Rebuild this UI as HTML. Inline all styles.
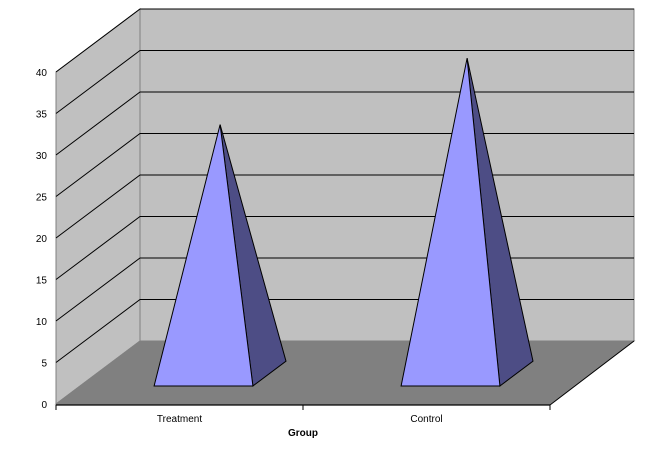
<!DOCTYPE html>
<html><head><meta charset="utf-8"><style>
html,body{margin:0;padding:0;background:#fff}
svg{display:block;font-family:"Liberation Sans",Arial,sans-serif}
</style></head><body>
<svg id="chart" width="667" height="455" viewBox="0 0 667 455" xmlns="http://www.w3.org/2000/svg"></svg>
<script>
const categories = ["Treatment", "Control"];
const values = [30, 38];
const yTicks = [0, 5, 10, 15, 20, 25, 30, 35, 40];
const yMax = 40;

const NS = "http://www.w3.org/2000/svg";
const svg = document.getElementById("chart");
const X0 = 56, X1 = 550, Y0 = 404, Y40 = 72;
const DX = 84, DY = -63;
function yS(v){ return Y0 - (Y0 - Y40) * v / yMax; }
function P(x, v, d){ return [x + DX*d, yS(v) + DY*d]; }
function mk(tag, attrs, parent){
  const e = document.createElementNS(NS, tag);
  for (const k in attrs) e.setAttribute(k, attrs[k]);
  (parent||svg).appendChild(e);
  return e;
}
function pts(a){ return a.map(p=>p[0].toFixed(1)+","+p[1].toFixed(1)).join(" "); }

// back wall
let e = mk("polygon",{points:pts([P(X0,yMax,1),P(X1,yMax,1),P(X1,0,1),P(X0,0,1)]),fill:"#c0c0c0",stroke:"#808080"});
 
// left wall
e = mk("polygon",{points:pts([P(X0,yMax,0),P(X0,yMax,1),P(X0,0,1),P(X0,0,0)]),fill:"#c0c0c0",stroke:"#808080"});
 
// floor
e = mk("polygon",{points:pts([P(X0,0,0),P(X0,0,1),P(X1,0,1),P(X1,0,0)]),fill:"#808080",stroke:"#808080"});
 

// gridlines + tick labels
yTicks.forEach(v=>{
  if (v > 0) {
    const a=P(X0,v,0), b=P(X0,v,1), c=P(X1,v,1);
    const g = mk("polyline",{points:pts([a,b,c]),fill:"none",stroke:"#000","stroke-width":1});
     
  }
  const t = mk("text",{x:47,y:yS(v)+4,"font-size":10,"text-anchor":"end",fill:"#000"});
  t.textContent = v;
   
});

// front axes
e = mk("line",{x1:X0,y1:Y0+1,x2:X1,y2:Y0+1,stroke:"#000","stroke-width":1.2});
 
const band = (X1-X0)/categories.length;
for (let i=0;i<=categories.length;i++){
  const tk = mk("line",{x1:X0+band*i,y1:Y0+1,x2:X0+band*i,y2:Y0+6,stroke:"#000"});
   
}
e = mk("line",{x1:X1,y1:Y0+1,x2:P(X1,0,1)[0],y2:P(X1,0,1)[1],stroke:"#000"});
 

// pyramids
const d0 = 0.286, d1 = 0.68, dm = (d0+d1)/2;
categories.forEach((c,i)=>{
  const cx = X0 + band*(i+0.5), hw = band*0.2;
  const fl = P(cx-hw,0,d0), fr = P(cx+hw,0,d0), br = P(cx+hw,0,d1);
  const apex = P(cx, values[i], dm);
  const side = mk("polygon",{points:pts([fr,br,apex]),fill:"#4d4d85",stroke:"#000","stroke-width":1});
   
  const front = mk("polygon",{points:pts([fl,fr,apex]),fill:"#9999ff",stroke:"#000","stroke-width":1});
   
  const t = mk("text",{x:cx,y:422,"font-size":10,"text-anchor":"middle",fill:"#000"});
  t.textContent = c;
   
});

e = mk("text",{x:303,y:436,"font-size":10,"font-weight":"bold","text-anchor":"middle",fill:"#000"});
e.textContent = "Group";
 
</script>
</body></html>
